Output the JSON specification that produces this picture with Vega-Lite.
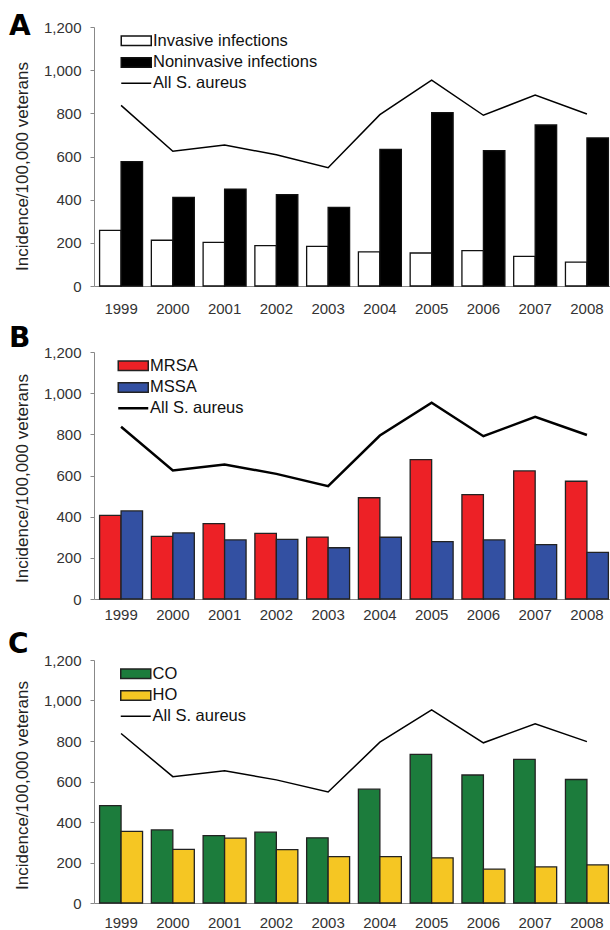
{
  "$schema": "https://vega.github.io/schema/vega-lite/v6.json",
  "padding": {"left": 8, "top": 13, "right": 0, "bottom": 0},
  "spacing": 9,
  "config": {
    "view": {"stroke": null},
    "font": "Liberation Sans",
    "axis": {"labelFont": "Liberation Sans", "labelFontSize": 15, "labelColor": "#333", "domainColor": "#888", "tickColor": "#888", "titleFont": "Liberation Sans", "titleFontWeight": "normal", "titleColor": "#222", "grid": false},
    "legend": {"orient": "none", "title": null, "padding": 0, "labelFont": "Liberation Sans", "labelFontSize": 16.5, "labelColor": "#111", "labelOffset": 8.5, "labelLimit": 0, "rowPadding": 4.7, "symbolSize": 36},
    "title": {"font": "DejaVu Sans", "fontWeight": "bold", "fontSize": 28, "color": "black", "anchor": "start", "frame": "group", "offset": 0}
  },
  "datasets": {
    "bars": [
      {"panel": "A", "year": "1999", "series": "Invasive infections", "value": 258},
      {"panel": "A", "year": "2000", "series": "Invasive infections", "value": 212},
      {"panel": "A", "year": "2001", "series": "Invasive infections", "value": 202},
      {"panel": "A", "year": "2002", "series": "Invasive infections", "value": 187},
      {"panel": "A", "year": "2003", "series": "Invasive infections", "value": 184},
      {"panel": "A", "year": "2004", "series": "Invasive infections", "value": 158},
      {"panel": "A", "year": "2005", "series": "Invasive infections", "value": 153},
      {"panel": "A", "year": "2006", "series": "Invasive infections", "value": 164},
      {"panel": "A", "year": "2007", "series": "Invasive infections", "value": 137},
      {"panel": "A", "year": "2008", "series": "Invasive infections", "value": 111},
      {"panel": "A", "year": "1999", "series": "Noninvasive infections", "value": 576},
      {"panel": "A", "year": "2000", "series": "Noninvasive infections", "value": 411},
      {"panel": "A", "year": "2001", "series": "Noninvasive infections", "value": 449},
      {"panel": "A", "year": "2002", "series": "Noninvasive infections", "value": 423},
      {"panel": "A", "year": "2003", "series": "Noninvasive infections", "value": 364},
      {"panel": "A", "year": "2004", "series": "Noninvasive infections", "value": 633},
      {"panel": "A", "year": "2005", "series": "Noninvasive infections", "value": 803},
      {"panel": "A", "year": "2006", "series": "Noninvasive infections", "value": 627},
      {"panel": "A", "year": "2007", "series": "Noninvasive infections", "value": 746},
      {"panel": "A", "year": "2008", "series": "Noninvasive infections", "value": 686},
      {"panel": "B", "year": "1999", "series": "MRSA", "value": 406},
      {"panel": "B", "year": "2000", "series": "MRSA", "value": 304},
      {"panel": "B", "year": "2001", "series": "MRSA", "value": 366},
      {"panel": "B", "year": "2002", "series": "MRSA", "value": 319},
      {"panel": "B", "year": "2003", "series": "MRSA", "value": 301},
      {"panel": "B", "year": "2004", "series": "MRSA", "value": 492},
      {"panel": "B", "year": "2005", "series": "MRSA", "value": 677},
      {"panel": "B", "year": "2006", "series": "MRSA", "value": 507},
      {"panel": "B", "year": "2007", "series": "MRSA", "value": 622},
      {"panel": "B", "year": "2008", "series": "MRSA", "value": 572},
      {"panel": "B", "year": "1999", "series": "MSSA", "value": 428},
      {"panel": "B", "year": "2000", "series": "MSSA", "value": 321},
      {"panel": "B", "year": "2001", "series": "MSSA", "value": 287},
      {"panel": "B", "year": "2002", "series": "MSSA", "value": 290},
      {"panel": "B", "year": "2003", "series": "MSSA", "value": 249},
      {"panel": "B", "year": "2004", "series": "MSSA", "value": 300},
      {"panel": "B", "year": "2005", "series": "MSSA", "value": 279},
      {"panel": "B", "year": "2006", "series": "MSSA", "value": 287},
      {"panel": "B", "year": "2007", "series": "MSSA", "value": 264},
      {"panel": "B", "year": "2008", "series": "MSSA", "value": 227},
      {"panel": "C", "year": "1999", "series": "CO", "value": 481},
      {"panel": "C", "year": "2000", "series": "CO", "value": 361},
      {"panel": "C", "year": "2001", "series": "CO", "value": 333},
      {"panel": "C", "year": "2002", "series": "CO", "value": 350},
      {"panel": "C", "year": "2003", "series": "CO", "value": 322},
      {"panel": "C", "year": "2004", "series": "CO", "value": 562},
      {"panel": "C", "year": "2005", "series": "CO", "value": 734},
      {"panel": "C", "year": "2006", "series": "CO", "value": 632},
      {"panel": "C", "year": "2007", "series": "CO", "value": 709},
      {"panel": "C", "year": "2008", "series": "CO", "value": 610},
      {"panel": "C", "year": "1999", "series": "HO", "value": 354},
      {"panel": "C", "year": "2000", "series": "HO", "value": 265},
      {"panel": "C", "year": "2001", "series": "HO", "value": 320},
      {"panel": "C", "year": "2002", "series": "HO", "value": 264},
      {"panel": "C", "year": "2003", "series": "HO", "value": 229},
      {"panel": "C", "year": "2004", "series": "HO", "value": 229},
      {"panel": "C", "year": "2005", "series": "HO", "value": 223},
      {"panel": "C", "year": "2006", "series": "HO", "value": 167},
      {"panel": "C", "year": "2007", "series": "HO", "value": 178},
      {"panel": "C", "year": "2008", "series": "HO", "value": 188}
    ],
    "total": [
      {"year": "1999", "series": "All S. aureus", "value": 837},
      {"year": "2000", "series": "All S. aureus", "value": 624},
      {"year": "2001", "series": "All S. aureus", "value": 653},
      {"year": "2002", "series": "All S. aureus", "value": 608},
      {"year": "2003", "series": "All S. aureus", "value": 548},
      {"year": "2004", "series": "All S. aureus", "value": 794},
      {"year": "2005", "series": "All S. aureus", "value": 954},
      {"year": "2006", "series": "All S. aureus", "value": 791},
      {"year": "2007", "series": "All S. aureus", "value": 885},
      {"year": "2008", "series": "All S. aureus", "value": 797}
    ]
  },
  "resolve": {"scale": {"x": "independent", "y": "independent", "xOffset": "independent", "fill": "independent", "stroke": "independent"}, "legend": {"fill": "independent", "stroke": "independent"}},
  "vconcat": [
    {
      "width": 520, "height": 259,
      "title": {"text": "A", "dx": -85, "dy": 25},
      "layer": [
        {
          "data": {"name": "bars"},
          "transform": [{"filter": "datum.panel === 'A'"}],
          "mark": {"type": "bar", "stroke": "#111", "strokeWidth": 1.3},
          "encoding": {
            "x": {"field": "year", "type": "nominal", "scale": {"paddingInner": 0.17, "paddingOuter": 0.108}, "axis": {"title": null, "labelAngle": 0, "ticks": false, "labelPadding": 15}},
            "xOffset": {"field": "series", "type": "nominal", "scale": {"domain": ["Invasive infections", "Noninvasive infections"], "paddingInner": 0, "paddingOuter": 0}},
            "y": {"field": "value", "type": "quantitative", "scale": {"domain": [0, 1200]}, "axis": {"title": "Incidence/100,000 veterans", "titleFontSize": 17, "titlePadding": 12, "titleY": 139, "values": [0, 200, 400, 600, 800, 1000, 1200], "format": ",d", "tickSize": 4, "labelPadding": 9}},
            "fill": {"field": "series", "type": "nominal", "scale": {"domain": ["Invasive infections", "Noninvasive infections"], "range": ["white", "black"]}, "legend": {"legendX": 34, "legendY": 5.5, "symbolType": "M-5,-1.6H5V1.6H-5Z", "symbolStrokeColor": "#111", "symbolStrokeWidth": 1.5}}
          }
        },
        {
          "data": {"name": "total"},
          "mark": {"type": "line", "strokeWidth": 1.5},
          "encoding": {
            "x": {"field": "year", "type": "nominal"},
            "y": {"field": "value", "type": "quantitative"},
            "stroke": {"field": "series", "type": "nominal", "scale": {"range": ["black"]}, "legend": {"legendX": 34, "legendY": 48, "symbolType": "M-5,0H5", "symbolStrokeColor": "black", "symbolStrokeWidth": 1.5}}
          }
        }
      ]
    },
    {
      "width": 520, "height": 247,
      "title": {"text": "B", "dx": -85, "dy": 12},
      "layer": [
        {
          "data": {"name": "bars"},
          "transform": [{"filter": "datum.panel === 'B'"}],
          "mark": {"type": "bar", "stroke": "#222", "strokeWidth": 1.3},
          "encoding": {
            "x": {"field": "year", "type": "nominal", "scale": {"paddingInner": 0.17, "paddingOuter": 0.108}, "axis": {"title": null, "labelAngle": 0, "ticks": false, "labelPadding": 8}},
            "xOffset": {"field": "series", "type": "nominal", "scale": {"domain": ["MRSA", "MSSA"], "paddingInner": 0, "paddingOuter": 0}},
            "y": {"field": "value", "type": "quantitative", "scale": {"domain": [0, 1200]}, "axis": {"title": "Incidence/100,000 veterans", "titleFontSize": 17, "titlePadding": 12, "titleY": 126, "values": [0, 200, 400, 600, 800, 1000, 1200], "format": ",d", "tickSize": 4, "labelPadding": 9}},
            "fill": {"field": "series", "type": "nominal", "scale": {"domain": ["MRSA", "MSSA"], "range": ["#ED2126", "#3350A2"]}, "legend": {"legendX": 31, "legendY": 5.5, "symbolType": "M-5,-1.6H5V1.6H-5Z", "symbolStrokeColor": "#222", "symbolStrokeWidth": 1.5}}
          }
        },
        {
          "data": {"name": "total"},
          "mark": {"type": "line", "strokeWidth": 2.5},
          "encoding": {
            "x": {"field": "year", "type": "nominal"},
            "y": {"field": "value", "type": "quantitative"},
            "stroke": {"field": "series", "type": "nominal", "scale": {"range": ["black"]}, "legend": {"legendX": 31, "legendY": 48, "symbolType": "M-5,0H5", "symbolStrokeColor": "black", "symbolStrokeWidth": 2.5}}
          }
        }
      ]
    },
    {
      "width": 520, "height": 243,
      "title": {"text": "C", "dx": -86, "dy": 10},
      "layer": [
        {
          "data": {"name": "bars"},
          "transform": [{"filter": "datum.panel === 'C'"}],
          "mark": {"type": "bar", "stroke": "#222", "strokeWidth": 1.3},
          "encoding": {
            "x": {"field": "year", "type": "nominal", "scale": {"paddingInner": 0.17, "paddingOuter": 0.108}, "axis": {"title": null, "labelAngle": 0, "ticks": false, "labelPadding": 12}},
            "xOffset": {"field": "series", "type": "nominal", "scale": {"domain": ["CO", "HO"], "paddingInner": 0, "paddingOuter": 0}},
            "y": {"field": "value", "type": "quantitative", "scale": {"domain": [0, 1200]}, "axis": {"title": "Incidence/100,000 veterans", "titleFontSize": 17, "titlePadding": 12, "titleY": 125, "values": [0, 200, 400, 600, 800, 1000, 1200], "format": ",d", "tickSize": 4, "labelPadding": 9}},
            "fill": {"field": "series", "type": "nominal", "scale": {"domain": ["CO", "HO"], "range": ["#1C7C3C", "#F5C623"]}, "legend": {"legendX": 33.5, "legendY": 5.5, "symbolType": "M-5,-1.6H5V1.6H-5Z", "symbolStrokeColor": "#222", "symbolStrokeWidth": 1.5}}
          }
        },
        {
          "data": {"name": "total"},
          "mark": {"type": "line", "strokeWidth": 1.5},
          "encoding": {
            "x": {"field": "year", "type": "nominal"},
            "y": {"field": "value", "type": "quantitative"},
            "stroke": {"field": "series", "type": "nominal", "scale": {"range": ["black"]}, "legend": {"legendX": 33.5, "legendY": 48, "symbolType": "M-5,0H5", "symbolStrokeColor": "black", "symbolStrokeWidth": 1.5}}
          }
        }
      ]
    }
  ]
}
